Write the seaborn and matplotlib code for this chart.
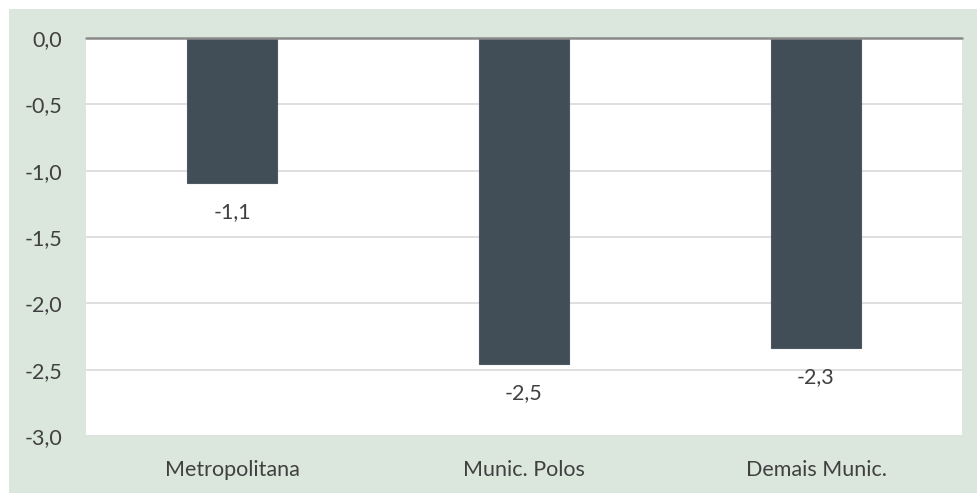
import matplotlib
matplotlib.use("Agg")
import matplotlib.pyplot as plt
from matplotlib.patches import Rectangle
import seaborn as sns
import pandas as pd

# Variação por grupo de municípios
categories = ["Metropolitana", "Munic. Polos", "Demais Munic."]
values = [-1.09, -2.46, -2.34]
yticks = [0.0, -0.5, -1.0, -1.5, -2.0, -2.5, -3.0]

df = pd.DataFrame({"grupo": categories, "valor": values})

sns.set_theme(style="white")
plt.rcParams["font.family"] = ["Lato", "DejaVu Sans"]

text_color = "#404040"
bar_color = "#414e58"
panel_color = "#dbe6dc"
fs = 15.5

fig = plt.figure(figsize=(9.78, 4.93), dpi=100)
fig.patch.set_facecolor("white")
fig.patches.append(Rectangle((9 / 978, 0), 1 - 9 / 978, 1 - 9 / 493,
                             transform=fig.transFigure, facecolor=panel_color,
                             edgecolor="none", zorder=-10))

ax = fig.add_axes([86 / 978, (493 - 436) / 493, 876 / 978, 398 / 493])
ax.set_zorder(5)
ax.set_facecolor("white")

sns.barplot(data=df, x="grupo", y="valor", order=categories, color=bar_color,
            width=0.31, saturation=1, edgecolor="#4d5a63", linewidth=0.8,
            ax=ax, zorder=3)

ax.set_ylim(-3.0, 0.0)
ax.set_xlim(-0.5, 2.5)
ax.set_yticks(yticks)
ax.set_yticklabels([f"{t:.1f}".replace(".", ",").replace("-0,0", "0,0") for t in yticks])
ax.yaxis.grid(True, color="#d9d9d9", linewidth=1.2, zorder=1)
ax.set_axisbelow(True)
ax.axhline(0, color="#8a8a8a", linewidth=1.8, zorder=4, clip_on=False)

for s in ax.spines.values():
    s.set_visible(False)

ax.tick_params(axis="y", length=0, pad=17, labelsize=fs, labelcolor=text_color)
ax.tick_params(axis="x", length=0, pad=17, labelsize=fs, labelcolor=text_color)
ax.set_xlabel("")
ax.set_ylabel("")

for i, v in enumerate(values):
    ax.annotate(f"{v:.1f}".replace(".", ","), xy=(i, v), xytext=(0, -29),
                textcoords="offset pixels", ha="center", va="center",
                fontsize=fs, color=text_color, zorder=5)

fig.savefig("out.png", dpi=100, facecolor=fig.get_facecolor())
